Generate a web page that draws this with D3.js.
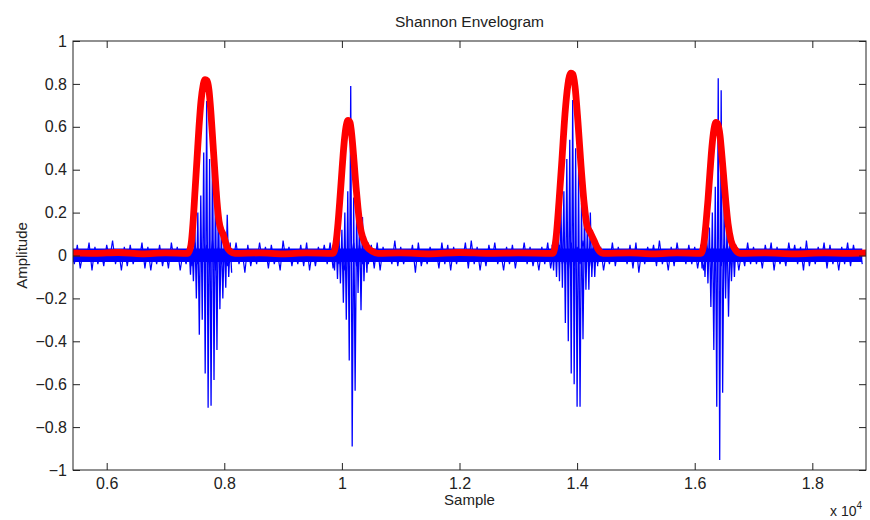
<!DOCTYPE html>
<html>
<head>
<meta charset="utf-8">
<script src="https://cdn.jsdelivr.net/npm/d3@7"></script>
<style>
  body { margin: 0; background: #fff; }
  text { font-family: Arial, "Liberation Sans", sans-serif; fill: #222; }
</style>
</head>
<body>
<svg id="chart" width="870" height="520"></svg>
<script>
// axis ticks
let sampleTicks = [6000, 8000, 10000, 12000, 14000, 16000, 18000];
let sampleLabels = ['0.6', '0.8', '1', '1.2', '1.4', '1.6', '1.8'];
let ampTicks = [-1, -0.8, -0.6, -0.4, -0.2, 0, 0.2, 0.4, 0.6, 0.8, 1];

// background noise of the signal, upper / lower extreme per 100-sample bin (x 0.01)
let noiseStart = 5400;
let noiseStep = 100;
let noiseHi = [3,5,2,6,4,3,5,7,3,4, 5,2,6,4,3,5,3,6,4,2, 4,6,3,5,7,4,2,4,6,3,
  5,3,6,4,5,2,7,4,3,5, 6,3,4,5,6,2,4,3,6,5, 3,5,6,4,2,7,4,3,5,6,
  2,4,3,6,5,4,3,6,7,4, 3,5,6,2,4,5,3,6,4,2, 4,6,3,5,3,6,4,7,3,5,
  4,2,6,4,3,5,6,3,4,5, 7,3,4,6,2,5,4,3,6,4, 3,5,7,4,2,6,4,3,5,6,
  4,2,6,5,4,7,3,4,6,5, 3,4,6,5,3];
let noiseLo = [-4,-6,-3,-7,-4,-5,-2,-4,-7,-5, -4,-3,-6,-7,-4,-5,-6,-3,-7,-4,
  -5,-4,-2,-6,-7,-4,-5,-3,-4,-8, -5,-4,-3,-6,-4,-7,-3,-5,-4,-5,
  -7,-5,-3,-4,-6,-4,-7,-3,-5,-4, -4,-6,-7,-3,-4,-5,-4,-3,-8,-5,
  -4,-3,-6,-4,-7,-4,-3,-6,-4,-7, -5,-3,-4,-7,-4,-6,-3,-4,-5,-7,
  -4,-6,-3,-4,-7,-5,-4,-3,-6,-4, -7,-4,-5,-3,-4,-6,-8,-4,-3,-5,
  -4,-7,-5,-3,-4,-4,-6,-7,-3,-4, -5,-4,-3,-7,-5,-4,-4,-6,-3,-7,
  -4,-5,-3,-4,-7,-5,-4,-3,-6,-4, -7,-4,-5,-3,-4];
// dense core of the noise band (always filled)
let noiseCore = [-0.03, 0.033];

// heart sound bursts, alternating peaks every 25 samples
let burstStep = 25;
let burst1Start = 7400;
let burst1 = [0.05,-0.09,0.07,-0.12,0.12,-0.2,0.2,-0.37,0.28,-0.3,0.48,-0.55,0.72,-0.71,0.45,
  -0.7,0.53,-0.58,0.35,-0.44,0.3,-0.25,0.12,-0.2,0.1,-0.15,0.19,-0.1,0.06,-0.08];
let burst2Start = 9850;
let burst2 = [0.05,-0.07,0.08,-0.11,0.1,-0.13,0.12,-0.22,0.2,-0.3,0.3,-0.49,0.79,-0.89,0.27,
  -0.63,0.2,-0.175,0.165,-0.255,0.18,-0.12,0.09,-0.08,0.06];
let burst3Start = 13575;
let burst3 = [0.05,-0.07,0.08,-0.1,0.13,-0.12,0.23,-0.15,0.3,-0.315,0.45,-0.4,0.54,-0.55,0.725,
  -0.6,0.5,-0.705,0.4,-0.705,0.245,-0.39,0.2,-0.16,0.15,-0.16,0.2,-0.1,0.08,-0.1,0.06,-0.05];
let burst4Start = 16100;
let burst4 = [0.05,-0.06,0.07,-0.1,0.12,-0.13,0.13,-0.24,0.2,-0.44,0.32,-0.705,0.826,-0.953,0.77,
  -0.64,0.24,-0.2,0.13,-0.285,0.08,-0.12,0.06,-0.1,0.05];

// Shannon envelope
let envSample = [5427, 5800, 6200, 6600, 7000, 7383,
  7434, 7468, 7502, 7536, 7570, 7604, 7638, 7672, 7706, 7740, 7774, 7808, 7842, 7876, 7910, 7944, 7978, 8012, 8046, 8097, 8182,
  8600, 9000, 9400, 9849,
  9900, 9934, 9968, 10002, 10036, 10070, 10104, 10138, 10172, 10206, 10240, 10274, 10308, 10359, 10427, 10512, 10614,
  11000, 11500, 12000, 12500, 13000, 13590,
  13641, 13692, 13743, 13794, 13845, 13896, 13930, 13964, 14015, 14066, 14117, 14168, 14219, 14287, 14355, 14440,
  14900, 15300, 15700, 16107,
  16158, 16192, 16226, 16260, 16294, 16328, 16362, 16396, 16430, 16464, 16498, 16532, 16566, 16617, 16685, 16770,
  17200, 17700, 18200, 18600, 18913];
let envValue = [0.012, 0.01, 0.014, 0.008, 0.012, 0.01,
  0.05, 0.15, 0.3, 0.45, 0.6, 0.72, 0.79, 0.82, 0.815, 0.77, 0.66, 0.52, 0.38, 0.25, 0.16, 0.12, 0.1, 0.07, 0.04, 0.02, 0.01,
  0.012, 0.008, 0.012, 0.01,
  0.06, 0.15, 0.27, 0.4, 0.52, 0.6, 0.63, 0.62, 0.55, 0.44, 0.32, 0.22, 0.14, 0.08, 0.04, 0.02, 0.01,
  0.012, 0.008, 0.014, 0.01, 0.012, 0.01,
  0.08, 0.25, 0.45, 0.66, 0.8, 0.85, 0.845, 0.79, 0.62, 0.42, 0.25, 0.14, 0.11, 0.07, 0.03, 0.01,
  0.012, 0.008, 0.012, 0.01,
  0.06, 0.15, 0.26, 0.39, 0.51, 0.59, 0.62, 0.61, 0.56, 0.46, 0.35, 0.24, 0.15, 0.07, 0.03, 0.01,
  0.012, 0.008, 0.012, 0.01, 0.012];

let margin = { left: 73, right: 866, top: 41, bottom: 470 };
let svg = d3.select('#chart');

let xScale = d3.scaleLinear().domain([5427, 18913]).range([margin.left, margin.right]);
let yScale = d3.scaleLinear().domain([-1, 1]).range([margin.bottom, margin.top]);

svg.append('defs').append('clipPath').attr('id', 'plot-clip')
  .append('rect')
  .attr('x', margin.left).attr('y', margin.top)
  .attr('width', margin.right - margin.left).attr('height', margin.bottom - margin.top);

let plot = svg.append('g').attr('clip-path', 'url(#plot-clip)');

let lineFn = d3.line().x(d => xScale(d[0])).y(d => yScale(d[1]));

// noise: solid core band plus zigzag spikes
let noisePts = [];
noiseHi.forEach((h, i) => {
  let s = noiseStart + i * noiseStep;
  noisePts.push([s, h / 100]);
  noisePts.push([s + noiseStep / 2, noiseLo[i] / 100]);
});
let coreArea = d3.area()
  .x(d => xScale(d[0]))
  .y0(yScale(noiseCore[0]))
  .y1(yScale(noiseCore[1]));
plot.append('path')
  .attr('d', coreArea(noisePts))
  .attr('fill', '#0000ff');
plot.append('path')
  .attr('d', lineFn(noisePts))
  .attr('fill', 'none')
  .attr('stroke', '#0000ff')
  .attr('stroke-width', 1.2);

let bursts = [[burst1Start, burst1], [burst2Start, burst2], [burst3Start, burst3], [burst4Start, burst4]];
bursts.forEach(b => {
  let pts = b[1].map((v, i) => [b[0] + i * burstStep, v]);
  plot.append('path')
    .attr('d', lineFn(pts))
    .attr('fill', 'none')
    .attr('stroke', '#0000ff')
    .attr('stroke-width', 1.3);
});

let envLine = d3.line()
  .x(d => xScale(d[0]))
  .y(d => yScale(d[1]))
  .curve(d3.curveMonotoneX);
plot.append('path')
  .attr('d', envLine(envSample.map((s, i) => [s, envValue[i]])))
  .attr('fill', 'none')
  .attr('stroke', '#ff0000')
  .attr('stroke-width', 6.8)
  .attr('stroke-linejoin', 'round');

// axes (ticks point inwards, box on all sides)
let fmt = d => sampleLabels[sampleTicks.indexOf(d)];
let axes = [
  [d3.axisBottom(xScale).tickValues(sampleTicks).tickFormat(fmt).tickPadding(8), `translate(0,${margin.bottom})`],
  [d3.axisTop(xScale).tickValues(sampleTicks).tickFormat(''), `translate(0,${margin.top})`],
  [d3.axisLeft(yScale).tickValues(ampTicks).tickFormat(d3.format('~g')).tickPadding(6), `translate(${margin.left},0)`],
  [d3.axisRight(yScale).tickValues(ampTicks).tickFormat(''), `translate(${margin.right},0)`]
];
axes.forEach(a => {
  let g = svg.append('g').attr('transform', a[1])
    .call(a[0].tickSize(-7).tickSizeOuter(0));
  g.select('.domain').remove();
  g.selectAll('line').attr('stroke', '#222');
  g.selectAll('text').style('font-size', '16px').attr('fill', '#222')
    .style('font-family', 'Arial, "Liberation Sans", sans-serif');
});

svg.append('rect')
  .attr('x', margin.left).attr('y', margin.top)
  .attr('width', margin.right - margin.left).attr('height', margin.bottom - margin.top)
  .attr('fill', 'none').attr('stroke', '#222').attr('stroke-width', 1);

// labels
svg.append('text').text('Shannon Envelogram')
  .attr('x', (margin.left + margin.right) / 2).attr('y', 27)
  .attr('text-anchor', 'middle').style('font-size', '15.5px');
svg.append('text').text('Sample')
  .attr('x', (margin.left + margin.right) / 2).attr('y', 505)
  .attr('text-anchor', 'middle').style('font-size', '15px');
svg.append('text').text('Amplitude')
  .attr('transform', `translate(27,${(margin.top + margin.bottom) / 2})rotate(-90)`)
  .attr('text-anchor', 'middle').style('font-size', '15px');
let exp = svg.append('text').attr('x', 830).attr('y', 516).style('font-size', '14px');
exp.append('tspan').text('x 10');
exp.append('tspan').text('4').attr('dy', -7).style('font-size', '10px');
</script>
</body>
</html>
